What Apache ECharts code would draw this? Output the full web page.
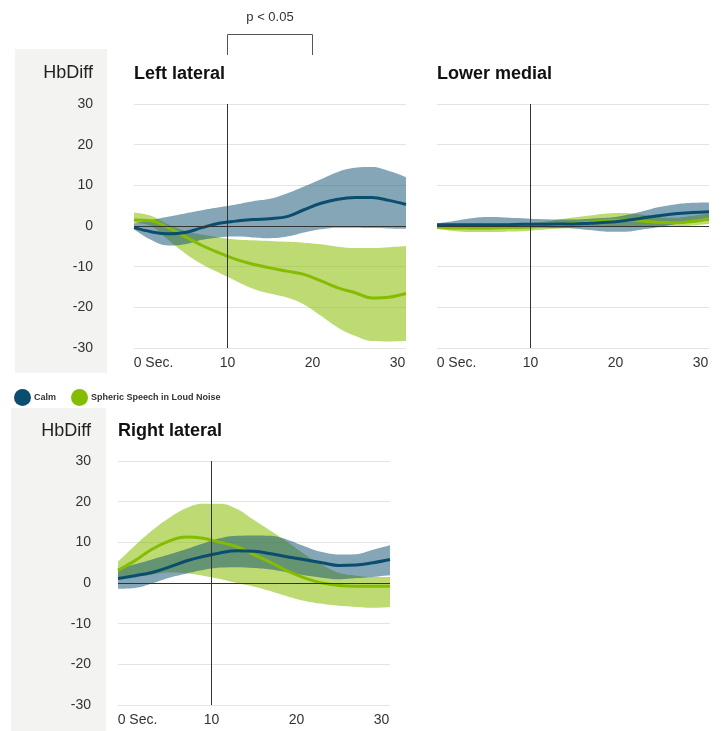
<!DOCTYPE html>
<html>
<head>
<meta charset="utf-8">
<script src="https://cdn.jsdelivr.net/npm/echarts@6/dist/echarts.min.js"></script>
<style>
html,body{margin:0;padding:0;background:#fff;}
#c{width:721px;height:731px;}
</style>
</head>
<body>
<div id="c"></div>
<script>
// ---- data ----
const times = [-1, 1, 3, 5, 7, 9, 11, 13, 15, 17, 19, 21, 23, 25, 27, 29, 31];
const xRange = [-1, 31];
const xTicks = [0, 10, 20, 30];
const yTicks = [-30, -20, -10, 0, 10, 20, 30];
const seriesNames = ['Calm', 'Spheric Speech in Loud Noise'];
const panelTitles = ['Left lateral', 'Lower medial', 'Right lateral'];

// Left lateral
const leftCalmMean  = [-0.4, -1.4, -1.9, -1.6, -0.4, 0.7, 1.2, 1.6, 1.8, 2.3, 4.0, 5.6, 6.6, 7.0, 7.0, 6.3, 5.3];
const leftCalmHigh  = [0.7, 1.5, 2.3, 3.1, 3.9, 4.6, 5.3, 6.1, 6.7, 8.0, 9.7, 11.5, 13.3, 14.3, 14.5, 13.5, 12.0];
const leftCalmLow   = [-0.8, -3.4, -4.8, -4.5, -3.4, -2.8, -2.6, -2.8, -3.0, -2.6, -1.6, -0.8, -0.4, -0.4, -0.5, -0.6, -0.7];
const leftNoiseMean = [1.5, 1.3, -0.4, -2.6, -4.8, -6.6, -8.2, -9.4, -10.3, -11.1, -11.9, -13.5, -15.2, -16.4, -17.7, -17.5, -16.6];
const leftNoiseHigh = [3.3, 2.5, 0.4, -1.2, -2.1, -2.8, -3.3, -3.5, -3.7, -3.9, -4.1, -4.5, -5.1, -5.4, -5.4, -5.2, -4.9];
const leftNoiseLow  = [0.8, 0.0, -3.4, -6.7, -9.4, -11.5, -13.5, -15.4, -16.6, -17.6, -19.3, -22.1, -25.0, -27.0, -28.3, -28.4, -28.3];

// Lower medial
const medCalmMean  = [0.3, 0.3, 0.3, 0.3, 0.3, 0.4, 0.4, 0.5, 0.5, 0.7, 0.9, 1.3, 1.9, 2.5, 3.0, 3.3, 3.5];
const medCalmHigh  = [0.6, 1.2, 1.9, 2.2, 2.1, 1.9, 1.7, 1.6, 1.6, 1.8, 2.0, 2.6, 3.5, 4.6, 5.3, 5.7, 5.8];
const medCalmLow   = [0.0, -0.5, -0.8, -0.8, -0.7, -0.6, -0.5, -0.5, -0.6, -1.0, -1.4, -1.4, -0.9, -0.3, 0.4, 1.0, 1.3];
const medNoiseMean = [-0.3, -0.5, -0.5, -0.5, -0.4, -0.3, -0.1, 0.2, 0.6, 0.9, 1.3, 1.5, 1.2, 0.9, 0.8, 1.1, 1.8];
const medNoiseHigh = [0.3, 0.1, 0.0, 0.0, 0.1, 0.4, 0.9, 1.5, 2.1, 2.6, 3.1, 3.2, 2.8, 2.2, 2.0, 2.5, 3.0];
const medNoiseLow  = [-0.8, -1.2, -1.5, -1.5, -1.4, -1.3, -1.0, -0.7, -0.5, -0.2, -0.1, 0.0, -0.2, -0.3, -0.2, 0.1, 0.5];

// Right lateral
const rightCalmMean  = [1.1, 1.8, 2.6, 3.9, 5.4, 6.5, 7.4, 7.9, 7.8, 7.2, 6.4, 5.7, 5.0, 4.3, 4.4, 5.0, 5.8];
const rightCalmHigh  = [3.5, 4.6, 5.8, 7.0, 8.3, 9.7, 11.0, 11.6, 11.7, 11.6, 10.6, 9.0, 7.6, 7.0, 7.1, 8.2, 9.3];
const rightCalmLow   = [-1.4, -1.2, -0.1, 1.3, 2.3, 3.2, 3.8, 3.9, 3.7, 3.3, 2.6, 1.9, 1.3, 0.9, 1.2, 1.5, 1.9];
const rightNoiseMean = [3.1, 5.5, 8.3, 10.3, 11.3, 11.0, 10.0, 8.9, 7.0, 5.0, 2.9, 1.2, 0.0, -0.6, -0.8, -0.8, -0.8];
const rightNoiseHigh = [5.2, 9.2, 12.9, 16.0, 18.4, 19.5, 19.5, 18.2, 15.5, 12.8, 10.0, 7.0, 4.5, 2.5, 1.8, 1.5, 1.5];
const rightNoiseLow  = [1.5, 1.7, 2.1, 2.6, 2.4, 1.8, 1.0, 0.0, -0.9, -2.0, -3.3, -4.4, -5.1, -5.6, -5.9, -6.1, -5.9];

const markerTime = 10;
const sigRange = [10, 20];
const sigText = 'p < 0.05';

// ---- styling ----
const FONT = '"Liberation Sans", Arial, sans-serif';
const BLUE = '#0b4d6f';
const GREEN = '#86bc00';
const BLUE_BAND = 'rgba(11,77,111,0.5)';
const GREEN_BAND = 'rgba(134,188,0,0.55)';

const grids = [
  {left: 134, top: 104, width: 272, height: 244},
  {left: 437, top: 104, width: 272, height: 244},
  {left: 118, top: 461, width: 272, height: 244}
];

const panels = [
  {calm: [leftCalmMean, leftCalmLow, leftCalmHigh], noise: [leftNoiseMean, leftNoiseLow, leftNoiseHigh], yLabels: true, margin: 41},
  {calm: [medCalmMean, medCalmLow, medCalmHigh], noise: [medNoiseMean, medNoiseLow, medNoiseHigh], yLabels: false, margin: 41},
  {calm: [rightCalmMean, rightCalmLow, rightCalmHigh], noise: [rightNoiseMean, rightNoiseLow, rightNoiseHigh], yLabels: true, margin: 27}
];

const SMOOTH = 0.4;
// rows are [value, time] so that the stacked dimension is the value (y) dimension
const rows = vals => times.map((t, i) => [vals[i], t]);

function bandSeries(gi, low, high, color, id) {
  return [
    {
      type: 'line', xAxisIndex: gi, yAxisIndex: gi, stack: id, stackStrategy: 'all',
      encode: {x: 1, y: 0},
      data: rows(low), smooth: SMOOTH, symbol: 'none', silent: true,
      lineStyle: {opacity: 0}, z: 1
    },
    {
      type: 'line', xAxisIndex: gi, yAxisIndex: gi, stack: id, stackStrategy: 'all',
      encode: {x: 1, y: 0},
      data: rows(high.map((h, i) => +(h - low[i]).toFixed(3))), smooth: SMOOTH, symbol: 'none', silent: true,
      lineStyle: {opacity: 0}, areaStyle: {color: color, opacity: 1}, z: 1
    }
  ];
}

const xAxes = [], yAxes = [], series = [];
panels.forEach((p, gi) => {
  xAxes.push({
    type: 'value', gridIndex: gi, min: xRange[0], max: xRange[1],
    axisLine: {show: false}, axisTick: {show: false}, splitLine: {show: false},
    axisLabel: {
      customValues: xTicks,
      color: '#333', fontSize: 14, fontFamily: FONT, margin: 8,
      formatter: v => (v === xTicks[0] ? '{first|' + v + ' Sec.}' : String(v)),
      rich: {first: {color: '#333', fontSize: 14, fontFamily: FONT, padding: [0, 0, 0, 22]}}
    }
  });
  yAxes.push({
    type: 'value', gridIndex: gi, min: yTicks[0], max: yTicks[yTicks.length - 1], interval: 10,
    axisLine: {show: false}, axisTick: {show: false},
    splitLine: {show: true, lineStyle: {color: '#e4e4e4', width: 1}},
    axisLabel: {show: p.yLabels, color: '#333', fontSize: 14, fontFamily: FONT, margin: p.margin}
  });
  series.push(...bandSeries(gi, p.noise[1], p.noise[2], GREEN_BAND, 'noise' + gi));
  series.push(...bandSeries(gi, p.calm[1], p.calm[2], BLUE_BAND, 'calm' + gi));
  series.push({
    name: seriesNames[1], type: 'line', xAxisIndex: gi, yAxisIndex: gi,
    encode: {x: 1, y: 0},
    data: rows(p.noise[0]), smooth: SMOOTH, symbol: 'none', color: GREEN,
    lineStyle: {width: 3, color: GREEN}, z: 3
  });
  series.push({
    name: seriesNames[0], type: 'line', xAxisIndex: gi, yAxisIndex: gi,
    encode: {x: 1, y: 0},
    data: rows(p.calm[0]), smooth: SMOOTH, symbol: 'none', color: BLUE,
    lineStyle: {width: 3, color: BLUE}, z: 4,
    markLine: {
      silent: true, symbol: 'none', label: {show: false},
      lineStyle: {color: '#333', width: 1, type: 'solid'},
      data: [{xAxis: markerTime}, {yAxis: 0}]
    }
  });
});

const titles = panelTitles.map((t, i) => ({
  text: t, left: grids[i].left, top: i < 2 ? 65 : 422, padding: 0,
  textStyle: {fontSize: 18, fontWeight: 'bold', color: '#111', fontFamily: FONT}
}));

const chart = echarts.init(document.getElementById('c'), null, {renderer: 'canvas'});
chart.setOption({
  animation: false,
  backgroundColor: '#fff',
  title: titles,
  legend: {
    data: seriesNames, left: 14, top: 389, padding: 0, icon: 'circle',
    itemWidth: 17, itemHeight: 17, itemGap: 15,
    textStyle: {fontSize: 9, fontWeight: 'bold', color: '#333', fontFamily: FONT, padding: [0, 0, 0, -2]}
  },
  grid: grids,
  xAxis: xAxes,
  yAxis: yAxes,
  series: series,
  graphic: [
    {id: 'box1', type: 'rect', shape: {x: 15, y: 49, width: 92, height: 324}, style: {fill: '#f3f3f1', stroke: null}, z: -10},
    {id: 'box2', type: 'rect', shape: {x: 11, y: 408, width: 95, height: 323}, style: {fill: '#f3f3f1', stroke: null}, z: -10},
    {id: 'hb1', type: 'text', x: 93, y: 73, style: {text: 'HbDiff', fontSize: 18, fill: '#222', fontFamily: FONT, align: 'right', verticalAlign: 'middle'}},
    {id: 'hb2', type: 'text', x: 91, y: 431, style: {text: 'HbDiff', fontSize: 18, fill: '#222', fontFamily: FONT, align: 'right', verticalAlign: 'middle'}}
  ]
});

// significance bracket, placed from the first panel's x axis
const x0 = chart.convertToPixel({xAxisIndex: 0}, sigRange[0]);
const x1 = chart.convertToPixel({xAxisIndex: 0}, sigRange[1]);
chart.setOption({
  graphic: [
    {id: 'bracket', type: 'polyline', shape: {points: [[x0, 55], [x0, 34.5], [x1, 34.5], [x1, 55]]}, style: {stroke: '#555', lineWidth: 1, fill: null}},
    {id: 'ptext', type: 'text', x: (x0 + x1) / 2, y: 17, style: {text: sigText, fontSize: 13, fill: '#333', fontFamily: FONT, align: 'center', verticalAlign: 'middle'}}
  ]
});
</script>
</body>
</html>
